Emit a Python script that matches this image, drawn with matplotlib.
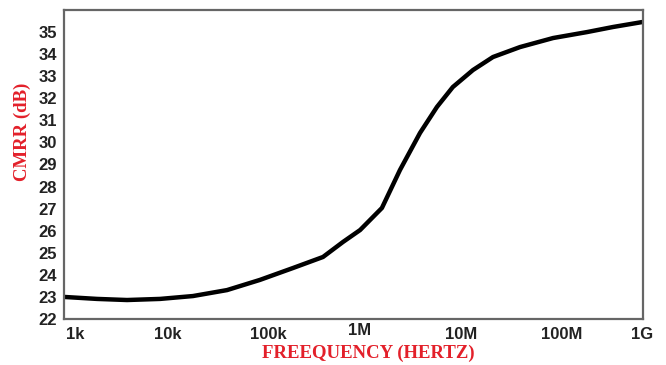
import matplotlib
matplotlib.use("Agg")
import matplotlib.pyplot as plt
import matplotlib.transforms as mtransforms

# Data (frequency in Hz, CMRR in dB)
freq_hz = [1.0e3, 2.2e3, 4.5e3, 9.9e3, 2.17e4, 4.89e4, 1.07e5, 2.36e5,
           4.83e5, 7.78e5, 1.17e6, 1.97e6, 3.03e6, 4.89e6, 7.33e6, 1.07e7,
           1.73e7, 2.79e7, 5.31e7, 1.17e8, 2.63e8, 4.89e8, 1.0e9]
cmrr_db = [23.0, 22.91, 22.86, 22.91, 23.04, 23.31, 23.77, 24.31,
           24.81, 25.49, 26.03, 27.03, 28.75, 30.43, 31.61, 32.51,
           33.28, 33.87, 34.32, 34.73, 35.00, 35.23, 35.46]

xtick_vals = [1e3, 1e4, 1e5, 1e6, 1e7, 1e8, 1e9]
xtick_labels = ["1k", "10k", "100k", "1M", "10M", "100M", "1G"]
ytick_vals = list(range(22, 36))

fig = plt.figure(figsize=(6.66, 3.65), dpi=100)
ax = fig.add_axes([64/666, 1-319/365, (643-64)/666, (319-10)/365])

ax.plot(freq_hz, cmrr_db, color="black", lw=3.2, solid_capstyle="round",
        solid_joinstyle="round")
ax.set_xscale("log")
ax.set_xlim(1e3, 1e9)
ax.set_ylim(22, 36)
ax.minorticks_off()

ax.set_xticks(xtick_vals)
ax.set_xticklabels(xtick_labels)
ax.set_yticks(ytick_vals)
ax.set_yticklabels([str(v) for v in ytick_vals])

ax.tick_params(axis="both", length=0, labelsize=12, labelcolor="#222222")
ax.tick_params(axis="y", pad=5)
ax.tick_params(axis="x", pad=6)
for lab in ax.get_xticklabels() + ax.get_yticklabels():
    lab.set_fontfamily("Liberation Sans")
    lab.set_fontweight("bold")

# per-label horizontal / vertical nudges as in the reference
offsets = [(11, 0), (7.5, 0), (11, 0), (6.5, 4), (11, 0), (15.5, 0), (-1, 0)]
for lab, (dx, dy) in zip(ax.get_xticklabels(), offsets):
    lab.set_transform(lab.get_transform() +
                      mtransforms.ScaledTranslation(dx/100, dy/100, fig.dpi_scale_trans))

for sp in ax.spines.values():
    sp.set_color("#666666")
    sp.set_linewidth(1.6)

red = "#e3202a"
fig.text(22/666, 1-132/365, "CMRR (dB)", rotation=90, ha="center", va="center",
         color=red, fontsize=13.5, fontweight="bold", family="Liberation Serif")
fig.text(368/666, 1-353/365, "FREEQUENCY (HERTZ)", ha="center", va="center",
         color=red, fontsize=13.5, fontweight="bold", family="Liberation Serif")

fig.savefig("out.png", dpi=100, facecolor="white")
